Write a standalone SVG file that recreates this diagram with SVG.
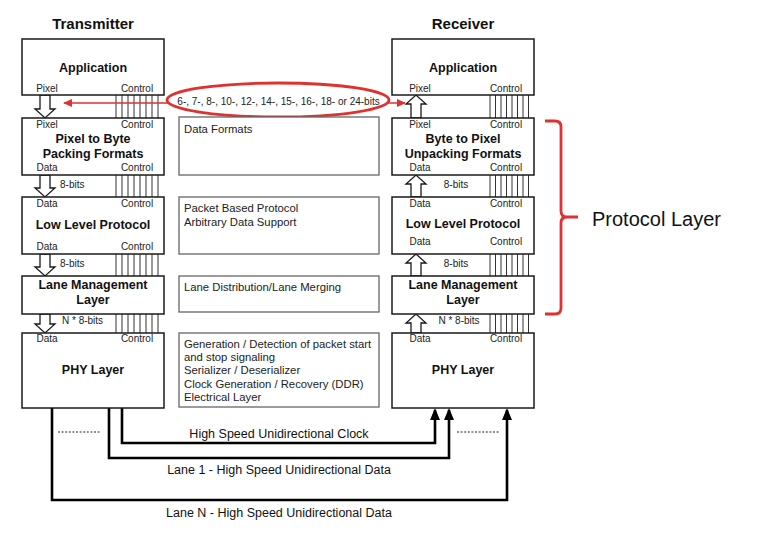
<svg xmlns="http://www.w3.org/2000/svg" width="763" height="536" viewBox="0 0 763 536">
<style>
.t{font-family:"Liberation Sans",Arial,Helvetica,sans-serif;fill:#111}
.hd{font-size:15px;font-weight:bold;text-anchor:middle}
.lb{font-size:12.5px;font-weight:bold;text-anchor:middle}
.sm{font-size:10px;text-anchor:middle;fill:#222}
.sl{font-size:10px;fill:#222}
.md{font-size:11.3px;fill:#222}
.bt{font-size:12.5px;text-anchor:middle;fill:#111}
.box{fill:#fff;stroke:#1a1a1a;stroke-width:1.5}
.mbox{fill:#fff;stroke:#666;stroke-width:1.3}
.hol{fill:#fff;stroke:#1a1a1a;stroke-width:1.3;stroke-linejoin:miter}
.ctl{fill:none;stroke:#333;stroke-width:1}
.wire{fill:none;stroke:#000;stroke-width:2.6;marker-end:url(#ah)}
.dot{fill:none;stroke:#222;stroke-width:1.2;stroke-dasharray:2 1.6}
.red{fill:none;stroke:#e03030}
</style>
<defs>
<marker id="ah" viewBox="0 0 12 10" refX="10" refY="5" markerWidth="12" markerHeight="10" markerUnits="userSpaceOnUse" orient="auto">
<path d="M0,0 L12,5 L0,10 z" fill="#000"/>
</marker>
<marker id="rh" viewBox="0 0 9 8" refX="8" refY="4" markerWidth="9" markerHeight="8" markerUnits="userSpaceOnUse" orient="auto">
<path d="M0,0 L9,4 L0,8 z" fill="#e03030"/>
</marker>
</defs>
<rect width="763" height="536" fill="#fff"/>

<text class="t hd" x="93" y="29">Transmitter</text>
<text class="t hd" x="463" y="29">Receiver</text>

<g id="connectors">
<path class="ctl" d="M116,95V118M122,95V118M128,95V118M134,95V118M140,95V118M146,95V118M152,95V118M158,95V118M116,175V197M122,175V197M128,175V197M134,175V197M140,175V197M146,175V197M152,175V197M158,175V197M116,254V276M122,254V276M128,254V276M134,254V276M140,254V276M146,254V276M152,254V276M158,254V276M116,314V333M122,314V333M128,314V333M134,314V333M140,314V333M146,314V333M152,314V333M158,314V333"/>
<path class="ctl" d="M490,95V118M495.5,95V118M501,95V118M506.5,95V118M512,95V118M517.5,95V118M523,95V118M528.5,95V118M490,175V197M495.5,175V197M501,175V197M506.5,175V197M512,175V197M517.5,175V197M523,175V197M528.5,175V197M490,254V276M495.5,254V276M501,254V276M506.5,254V276M512,254V276M517.5,254V276M523,254V276M528.5,254V276M490,314V333M495.5,314V333M501,314V333M506.5,314V333M512,314V333M517.5,314V333M523,314V333M528.5,314V333"/>
<polygon class="hol" points="40,95 50,95 50,109 55,109 45,118 35,109 40,109"/>
<polygon class="hol" points="40,175 50,175 50,188 55,188 45,197 35,188 40,188"/>
<polygon class="hol" points="40,254 50,254 50,267 55,267 45,276 35,267 40,267"/>
<polygon class="hol" points="40,314 50,314 50,324 55,324 45,333 35,324 40,324"/>
<polygon class="hol" points="411,118 421,118 421,104 426,104 416,95 406,104 411,104"/>
<polygon class="hol" points="411,197 421,197 421,184 426,184 416,175 406,184 411,184"/>
<polygon class="hol" points="411,276 421,276 421,263 426,263 416,254 406,263 411,263"/>
<polygon class="hol" points="411,333 421,333 421,323 426,323 416,314 406,323 411,323"/>
<text class="t sl" x="60" y="188">8-bits</text>
<text class="t sl" x="60" y="267">8-bits</text>
<text class="t sl" x="62" y="324">N * 8-bits</text>
<text class="t sm" x="456" y="188">8-bits</text>
<text class="t sm" x="456" y="267">8-bits</text>
<text class="t sm" x="459" y="324">N * 8-bits</text>
<path class="red" stroke-width="1.5" d="M230,103H64" marker-end="url(#rh)"/>
<path class="red" stroke-width="1.5" d="M330,103H405" marker-end="url(#rh)"/>
<path class="wire" d="M122,408V443H435V410"/>
<path class="wire" d="M109,408V458H449V410"/>
<path class="wire" d="M52,408V500H507V410"/>
<path class="dot" d="M58,432H101M457,432H499"/>
<text class="t bt" x="279" y="438">High Speed Unidirectional Clock</text>
<text class="t bt" x="279" y="474">Lane 1 - High Speed Unidirectional Data</text>
<text class="t bt" x="279" y="517">Lane N - High Speed Unidirectional Data</text>
</g>

<g id="bits-ellipse">
<ellipse cx="278" cy="100" rx="111" ry="17" fill="#fff" stroke="#e03030" stroke-width="2.8"/>
<text class="t sm" x="278.5" y="105">6-, 7-, 8-, 10-, 12-, 14-, 15-, 16-, 18- or 24-bits</text>
</g>

<g id="tx-application">
<rect class="box" x="22" y="39" width="142" height="56"/>
<text class="t lb" x="93" y="72">Application</text>
<text class="t sm" x="47" y="92">Pixel</text>
<text class="t sm" x="137" y="92">Control</text>
</g>
<g id="tx-packing">
<rect class="box" x="22" y="118" width="142" height="57"/>
<text class="t sm" x="47" y="128">Pixel</text>
<text class="t sm" x="137" y="128">Control</text>
<text class="t lb" x="93" y="143">Pixel to Byte</text>
<text class="t lb" x="93" y="158">Packing Formats</text>
<text class="t sm" x="47" y="171">Data</text>
<text class="t sm" x="137" y="171">Control</text>
</g>
<g id="tx-llp">
<rect class="box" x="22" y="197" width="142" height="57"/>
<text class="t sm" x="47" y="207">Data</text>
<text class="t sm" x="137" y="207">Control</text>
<text class="t lb" x="93" y="229">Low Level Protocol</text>
<text class="t sm" x="47" y="250">Data</text>
<text class="t sm" x="137" y="250">Control</text>
</g>
<g id="tx-lane">
<rect class="box" x="22" y="276" width="142" height="38"/>
<text class="t lb" x="93" y="289">Lane Management</text>
<text class="t lb" x="93" y="304">Layer</text>
</g>
<g id="tx-phy">
<rect class="box" x="22" y="333" width="142" height="75"/>
<text class="t sm" x="47" y="342">Data</text>
<text class="t sm" x="137" y="342">Control</text>
<text class="t lb" x="93" y="374">PHY Layer</text>
</g>

<g id="mid-formats">
<rect class="mbox" x="179" y="117" width="200" height="58"/>
<text class="t md" x="184" y="133">Data Formats</text>
</g>
<g id="mid-protocol">
<rect class="mbox" x="179" y="197" width="200" height="57"/>
<text class="t md" x="184" y="212">Packet Based Protocol</text>
<text class="t md" x="184" y="225.5">Arbitrary Data Support</text>
</g>
<g id="mid-lane">
<rect class="mbox" x="179" y="276" width="200" height="36"/>
<text class="t md" x="184" y="290.5">Lane Distribution/Lane Merging</text>
</g>
<g id="mid-phy">
<rect class="mbox" x="179" y="333" width="200" height="74"/>
<text class="t md" x="184" y="347.5">Generation / Detection of packet start</text>
<text class="t md" x="184" y="361">and stop signaling</text>
<text class="t md" x="184" y="374.3">Serializer / Deserializer</text>
<text class="t md" x="184" y="387.6">Clock Generation / Recovery (DDR)</text>
<text class="t md" x="184" y="401">Electrical Layer</text>
</g>

<g id="rx-application">
<rect class="box" x="392" y="39" width="142" height="56"/>
<text class="t lb" x="463" y="72">Application</text>
<text class="t sm" x="420" y="92">Pixel</text>
<text class="t sm" x="506" y="92">Control</text>
</g>
<g id="rx-unpacking">
<rect class="box" x="392" y="118" width="142" height="57"/>
<text class="t sm" x="420" y="128">Pixel</text>
<text class="t sm" x="506" y="128">Control</text>
<text class="t lb" x="463" y="143">Byte to Pixel</text>
<text class="t lb" x="463" y="158">Unpacking Formats</text>
<text class="t sm" x="420" y="171">Data</text>
<text class="t sm" x="506" y="171">Control</text>
</g>
<g id="rx-llp">
<rect class="box" x="392" y="197" width="142" height="57"/>
<text class="t sm" x="420" y="207">Data</text>
<text class="t sm" x="506" y="207">Control</text>
<text class="t lb" x="463" y="228">Low Level Protocol</text>
<text class="t sm" x="420" y="245">Data</text>
<text class="t sm" x="506" y="245">Control</text>
</g>
<g id="rx-lane">
<rect class="box" x="392" y="276" width="142" height="38"/>
<text class="t lb" x="463" y="289">Lane Management</text>
<text class="t lb" x="463" y="304">Layer</text>
</g>
<g id="rx-phy">
<rect class="box" x="392" y="333" width="142" height="75"/>
<text class="t sm" x="420" y="342">Data</text>
<text class="t sm" x="506" y="342">Control</text>
<text class="t lb" x="463" y="374">PHY Layer</text>
</g>

<g id="protocol-layer">
<path class="red" stroke-width="2.8" d="M545,121H555Q561,121 561,127V211Q561,217 567,217H578M567,217Q561,217 561,223V308Q561,314 555,314H545"/>
<text class="t" x="592" y="226" font-size="20" fill="#222">Protocol Layer</text>
</g>
</svg>
